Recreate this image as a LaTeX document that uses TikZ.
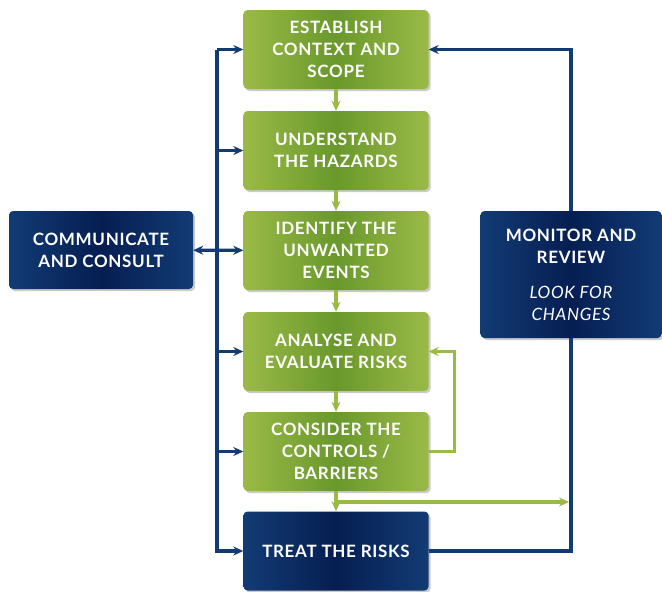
\documentclass[tikz,border=0pt]{standalone}
\usepackage{fontspec}
\setmainfont[LetterSpace=4]{Lato}
\usetikzlibrary{arrows.meta,shadows}

\definecolor{leaf}{HTML}{9ABA47}
\definecolor{leafdark}{HTML}{6A982C}
\definecolor{navy}{HTML}{123B74}
\definecolor{navydark}{HTML}{061E52}

\begin{document}
\begin{tikzpicture}[x=1pt,y=-1pt, >={Stealth[length=10pt,width=9pt]},
  boxshadow/.style={drop shadow={shadow xshift=2pt,shadow yshift=-2pt,opacity=0.35,fill=black!60}},
  greenbox/.style={rounded corners=4pt, minimum width=185pt, minimum height=79pt,
    left color=leaf, right color=leaf, middle color=leafdark, boxshadow,
    text=white, align=center, font=\bfseries\fontsize{17}{22}\selectfont},
  navybox/.style={greenbox, left color=navy, right color=navy, middle color=navydark},
  navyline/.style={draw=navy, line width=3.2pt},
  greenline/.style={draw=leaf, line width=3.2pt}]
\useasboundingbox (0,0) rectangle (662,592);

% steps of the process
\node[greenbox] (est) at (336,49.5) {ESTABLISH\\CONTEXT AND\\SCOPE};
\node[greenbox] (und) at (336,150.5) {UNDERSTAND\\THE HAZARDS};
\node[greenbox] (ide) at (336,250.5) {IDENTIFY THE\\UNWANTED\\EVENTS};
\node[greenbox] (ana) at (336,351.5) {ANALYSE AND\\EVALUATE RISKS};
\node[greenbox] (con) at (336,451.5) {CONSIDER THE\\CONTROLS /\\BARRIERS};
\node[navybox] (tre) at (336,551) {TREAT THE RISKS};

% side boxes
\node[navybox, minimum width=184pt, minimum height=78pt] (com) at (101,250) {COMMUNICATE\\AND CONSULT};
\node[navybox, minimum width=181pt, minimum height=127pt] (mon) at (571,274.5)
  {MONITOR AND\\REVIEW\\[13pt]{\mdseries\itshape LOOK FOR}\\{\mdseries\itshape CHANGES}};

% green flow down the middle
\draw[greenline, ->] (est) -- (und);
\draw[greenline, ->] (und) -- (ide);
\draw[greenline, ->] (ide) -- (ana);
\draw[greenline, ->] (ana) -- (con);
\draw[greenline, ->] (con) -- (tre);
\draw[greenline, ->] (con.east) -- ++(26,0) |- (ana.east);
\coordinate (split) at (336,502);
\draw[greenline, ->] (split) -- ([xshift=-2pt]split -| mon.south);

% communication bus on the left
\coordinate (bus) at (217,0);
\draw[navyline, ->] (bus |- est.west) -- (est.west);
\draw[navyline, ->] (bus |- est.west) |- (tre.west);
\foreach \n in {und,ana,con}
  \draw[navyline, ->] (bus |- \n.west) -- (\n.west);
\draw[navyline, <->] (com) -- (ide);

% monitoring loop on the right
\draw[navyline, ->] (mon.north) |- (est.east);
\draw[navyline] (tre.east) -| (mon.south);
\end{tikzpicture}
\end{document}
